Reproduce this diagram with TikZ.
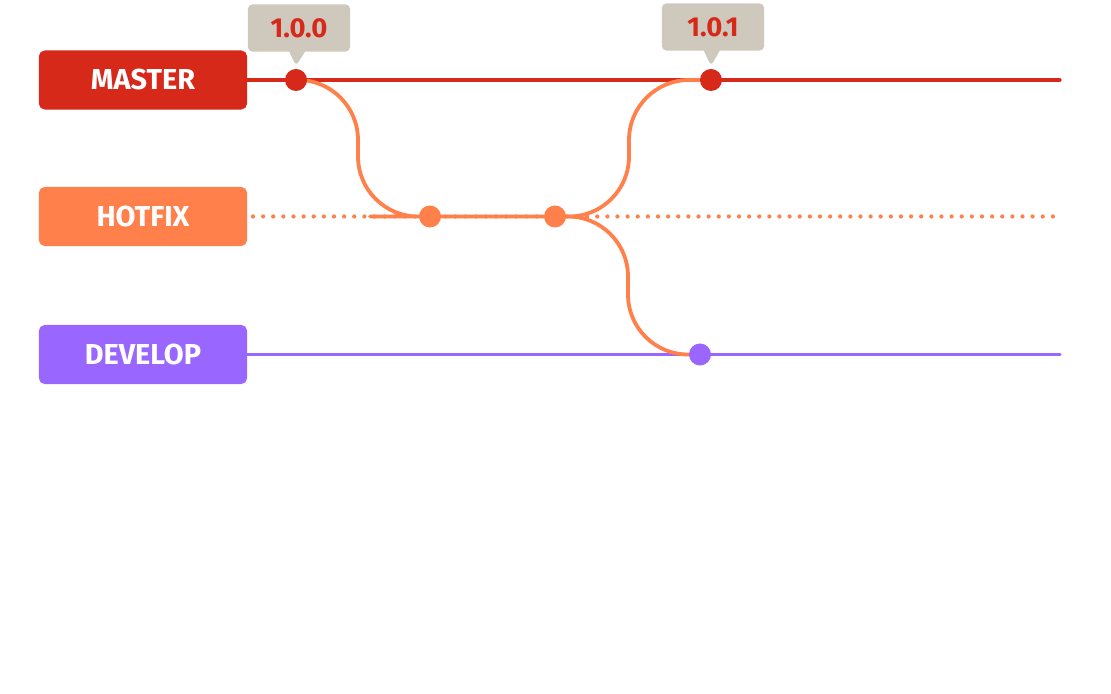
\documentclass[tikz,border=0pt]{standalone}
\usepackage{fontspec}
\setmainfont{Fira Sans}
\usetikzlibrary{shapes.callouts}
\definecolor{masterred}{RGB}{214,41,26}
\definecolor{hotfixorange}{RGB}{255,128,74}
\definecolor{developpurple}{RGB}{153,102,255}
\definecolor{taggray}{RGB}{207,200,189}
\tikzset{
  branch/.style={rounded corners=4pt,minimum width=5.2cm,minimum height=1.475cm,inner sep=0pt,
    text=white,font=\fontsize{20.5}{24}\selectfont\bfseries},
  tag/.style={rectangle callout,fill=taggray,rounded corners=3pt,minimum width=2.55cm,minimum height=1.175cm,
    callout pointer width=0.4cm,text=masterred,font=\fontsize{19.5}{22}\selectfont\bfseries},
  commit/.style={circle,minimum size=0.55cm,inner sep=0pt},
  branchline/.style={line width=2.2pt},
  hotline/.style={line width=2.7pt,color=hotfixorange,rounded corners=1.5cm}
}
\begin{document}
\begin{tikzpicture}[line cap=round,line join=round,x=0.025cm,y=-0.025cm]
\useasboundingbox (0,0) rectangle (1111,694);
% branch labels
\node[branch,fill=masterred] (master) at (143,80) {MASTER};
\node[branch,fill=hotfixorange] (hotfix) at (143,216.5) {HOTFIX};
\node[branch,fill=developpurple] (develop) at (143,354.5) {DEVELOP};
% commit positions
\coordinate (m1) at (296,80);
\coordinate (m2) at (711,80);
\coordinate (h1) at (430,216.5);
\coordinate (h2) at (555,216.5);
\coordinate (d1) at (700,354.5);
\coordinate (k1) at (358,216.5);
\coordinate (k2) at (629,80);
\coordinate (k3) at (628,354.5);
\coordinate (mend) at (1060,80);
\coordinate (hstart) at (253,216.5);
\coordinate (hend) at (1060,216.5);
\coordinate (dend) at (1060,354.5);
\coordinate (p1) at (296,66);
\coordinate (p2) at (711,66);
% branch lines
\draw[branchline,color=masterred] (master.east) -- (mend);
\draw[branchline,color=developpurple] (develop.east) -- (dend);
\draw[color=hotfixorange,line width=3pt,dash pattern=on 0pt off 7.2pt] (hstart) -- (hend);
\draw[hotline] (m1) -| (k1) -- (h1) -- (h2);
\draw[hotline] (h2) -| (k2) -- (m2);
\draw[hotline] (h2) -| (k3) -- (d1);
% commits
\node[commit,fill=masterred] (c100) at (m1) {};
\node[commit,fill=masterred] (c101) at (m2) {};
\node[commit,fill=hotfixorange] (fix1) at (h1) {};
\node[commit,fill=hotfixorange] (fix2) at (h2) {};
\node[commit,fill=developpurple] (merge) at (d1) {};
% tags
\node[tag,callout absolute pointer={(p1)}] (tag100) at (299,28) {1.0.0};
\node[tag,callout absolute pointer={(p2)}] (tag101) at (713,27) {1.0.1};
\end{tikzpicture}
\end{document}
